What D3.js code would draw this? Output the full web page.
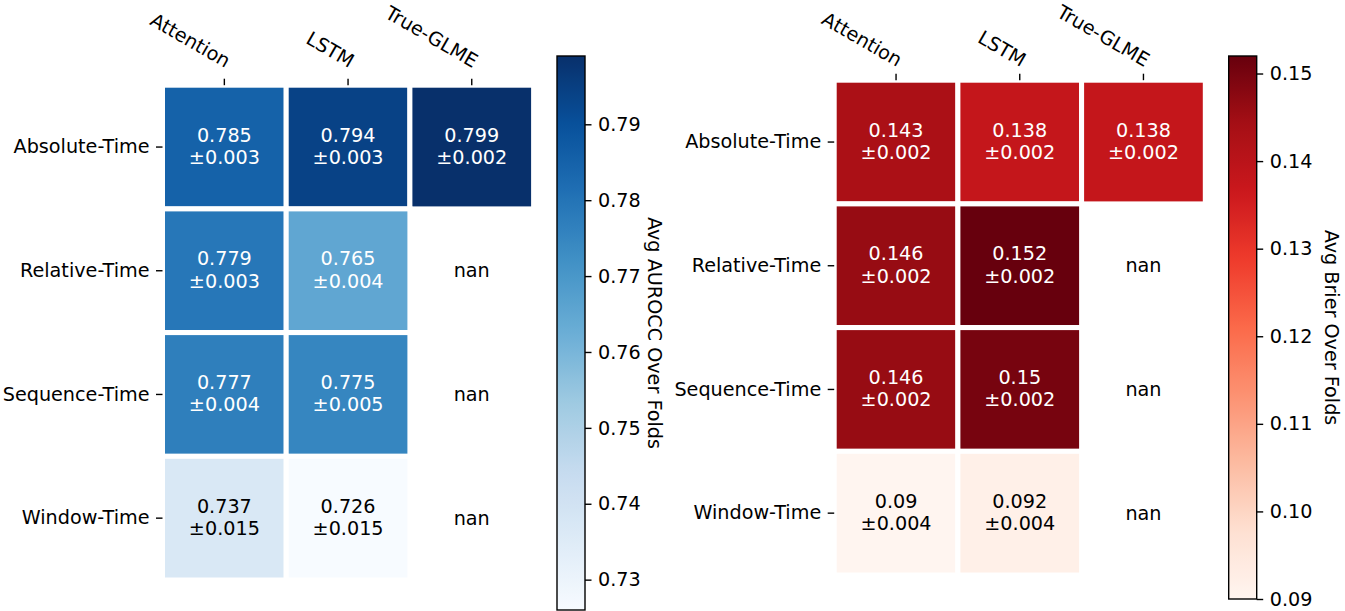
<!DOCTYPE html>
<html>
<head>
<meta charset="utf-8">
<script src="https://cdn.jsdelivr.net/npm/d3@7"></script>
<style>
body { margin: 0; background: #fff; }
svg text { font-family: "DejaVu Sans", sans-serif; }
</style>
</head>
<body>
<div class="chart"></div>
<script>
const models = ['Attention', 'LSTM', 'True-GLME'];
const timeTypes = ['Absolute-Time', 'Relative-Time', 'Sequence-Time', 'Window-Time'];

// null = nan (model not run for that time type)
const aurocMean = [
    [0.785, 0.794, 0.799],
    [0.779, 0.765, null],
    [0.777, 0.775, null],
    [0.737, 0.726, null]];
const aurocStd = [
    [0.003, 0.003, 0.002],
    [0.003, 0.004, null],
    [0.004, 0.005, null],
    [0.015, 0.015, null]];

const brierMean = [
    [0.143, 0.138, 0.138],
    [0.146, 0.152, null],
    [0.146, 0.15, null],
    [0.09, 0.092, null]];
const brierStd = [
    [0.002, 0.002, 0.002],
    [0.002, 0.002, null],
    [0.002, 0.002, null],
    [0.004, 0.004, null]];

const aurocTicks = [0.73, 0.74, 0.75, 0.76, 0.77, 0.78, 0.79];
const brierTicks = [0.09, 0.10, 0.11, 0.12, 0.13, 0.14, 0.15];

// matplotlib Blues / Reds (9 colorbrewer stops, linear segments)
const blues = ['#f7fbff', '#deebf7', '#c6dbef', '#9ecae1', '#6baed6', '#4292c6', '#2171b5', '#08519c', '#08306b'];
const reds = ['#fff5f0', '#fee0d2', '#fcbba1', '#fc9272', '#fb6a4a', '#ef3b2c', '#cb181d', '#a50f15', '#67000d'];

const FS = 19.2;
const width = 1345, height = 611;

const svg = d3.select(".chart").append("svg")
    .attr("width", width)
    .attr("height", height);
const defs = svg.append("defs");

function makeCmap(stops, lo, hi) {
    const n = stops.length;
    return d3.scaleLinear()
        .domain(d3.range(n).map(i => lo + (hi - lo) * i / (n - 1)))
        .range(stops)
        .interpolate(d3.interpolateRgb)
        .clamp(true);
}

// same rule seaborn uses to pick annotation colour
function textColor(fill) {
    const c = d3.rgb(fill);
    const lin = v => {
        v = v / 255;
        return v <= 0.03928 ? v / 12.92 : Math.pow((v + 0.055) / 1.055, 2.4);
    };
    const lum = 0.2126 * lin(c.r) + 0.7152 * lin(c.g) + 0.0722 * lin(c.b);
    return lum > 0.408 ? "#000" : "#fff";
}

function drawHeatmap(o) {
    const flat = o.mean.flat().filter(v => v !== null);
    const lo = d3.min(flat), hi = d3.max(flat);
    const color = makeCmap(o.stops, lo, hi);

    const x = d3.scaleBand().domain(models).range([o.x0, o.x0 + o.cell * models.length]);
    const y = d3.scaleBand().domain(timeTypes).range([o.y0, o.y0 + o.cell * timeTypes.length]);

    const cells = [];
    timeTypes.forEach((t, r) => models.forEach((m, c) => {
        cells.push({t: t, m: m, v: o.mean[r][c], s: o.std[r][c]});
    }));

    const g = svg.append("g");

    g.selectAll("rect.cell")
        .data(cells.filter(d => d.v !== null))
        .join("rect")
        .attr("class", "cell")
        .attr("x", d => x(d.m))
        .attr("y", d => y(d.t))
        .attr("width", x.bandwidth())
        .attr("height", y.bandwidth())
        .attr("fill", d => color(d.v))
        .attr("stroke", "#fff")
        .attr("stroke-width", 5);

    const labels = g.selectAll("g.annot")
        .data(cells)
        .join("g")
        .attr("class", "annot")
        .attr("transform", d => `translate(${x(d.m) + x.bandwidth() / 2},${y(d.t) + y.bandwidth() / 2})`)
        .attr("text-anchor", "middle")
        .style("font-size", FS + "px")
        .attr("fill", d => d.v === null ? "#000" : textColor(color(d.v)));

    labels.filter(d => d.v === null).append("text")
        .attr("y", 6.5)
        .text("nan");
    labels.filter(d => d.v !== null).append("text")
        .attr("y", -5.5)
        .text(d => String(d.v));
    labels.filter(d => d.v !== null).append("text")
        .attr("y", 17)
        .text(d => "\u00b1" + String(d.s));

    // column axis on top
    const top = g.append("g")
        .attr("transform", `translate(0,${o.y0})`)
        .call(d3.axisTop(x).tickSize(6.5));
    top.select(".domain").remove();
    top.selectAll(".tick line").attr("stroke", "#000").attr("stroke-width", 1.4);
    top.selectAll(".tick text")
        .attr("fill", "#000")
        .style("font-size", FS + "px")
        .attr("font-family", null)
        .attr("y", 0)
        .attr("dy", 0)
        .attr("text-anchor", "end")
        .attr("transform", `translate(1,${o.colDY}) rotate(30)`);

    // row axis on left
    const left = g.append("g")
        .attr("transform", `translate(${o.x0},0)`)
        .call(d3.axisLeft(y).tickSize(6.5).tickPadding(6.5));
    left.select(".domain").remove();
    left.selectAll(".tick line").attr("stroke", "#000").attr("stroke-width", 1.4);
    left.selectAll(".tick text")
        .attr("fill", "#000")
        .attr("font-family", null)
        .style("font-size", FS + "px");

    // colorbar
    const gid = "grad" + o.id;
    const grad = defs.append("linearGradient")
        .attr("id", gid)
        .attr("x1", 0).attr("y1", 1).attr("x2", 0).attr("y2", 0);
    grad.selectAll("stop")
        .data(d3.range(0, 1.0001, 0.02))
        .join("stop")
        .attr("offset", d => d)
        .attr("stop-color", d => color(lo + d * (hi - lo)));

    const cbY = d3.scaleLinear().domain([lo, hi]).range([o.barY1, o.barY0]);
    g.append("rect")
        .attr("x", o.barX)
        .attr("y", o.barY0)
        .attr("width", o.barW)
        .attr("height", o.barY1 - o.barY0)
        .attr("fill", `url(#${gid})`)
        .attr("stroke", "#000")
        .attr("stroke-width", 1.4);

    const cb = g.append("g")
        .attr("transform", `translate(${o.barX + o.barW},0)`)
        .call(d3.axisRight(cbY).tickValues(o.ticks).tickFormat(d3.format(".2f")).tickSize(6.5).tickPadding(6.5));
    cb.select(".domain").remove();
    cb.selectAll(".tick line").attr("stroke", "#000").attr("stroke-width", 1.4);
    cb.selectAll(".tick text")
        .attr("fill", "#000")
        .attr("font-family", null)
        .style("font-size", FS + "px");

    g.append("text")
        .attr("transform", `translate(${o.labelX},${(o.barY0 + o.barY1) / 2}) rotate(90)`)
        .attr("text-anchor", "middle")
        .style("font-size", FS + "px")
        .text(o.label);
}

drawHeatmap({
    id: "auroc", mean: aurocMean, std: aurocStd, stops: blues,
    x0: 162.5, y0: 85.2, cell: 123.7, colDY: -17,
    barX: 557, barW: 28, barY0: 56, barY1: 610,
    ticks: aurocTicks, label: "Avg AUROCC Over Folds", labelX: 648
});

drawHeatmap({
    id: "brier", mean: brierMean, std: brierStd, stops: reds,
    x0: 834.2, y0: 80.2, cell: 123.7, colDY: -13,
    barX: 1228.7, barW: 28, barY0: 56, barY1: 599,
    ticks: brierTicks, label: "Avg Brier Over Folds", labelX: 1325
});
</script>
</body>
</html>
